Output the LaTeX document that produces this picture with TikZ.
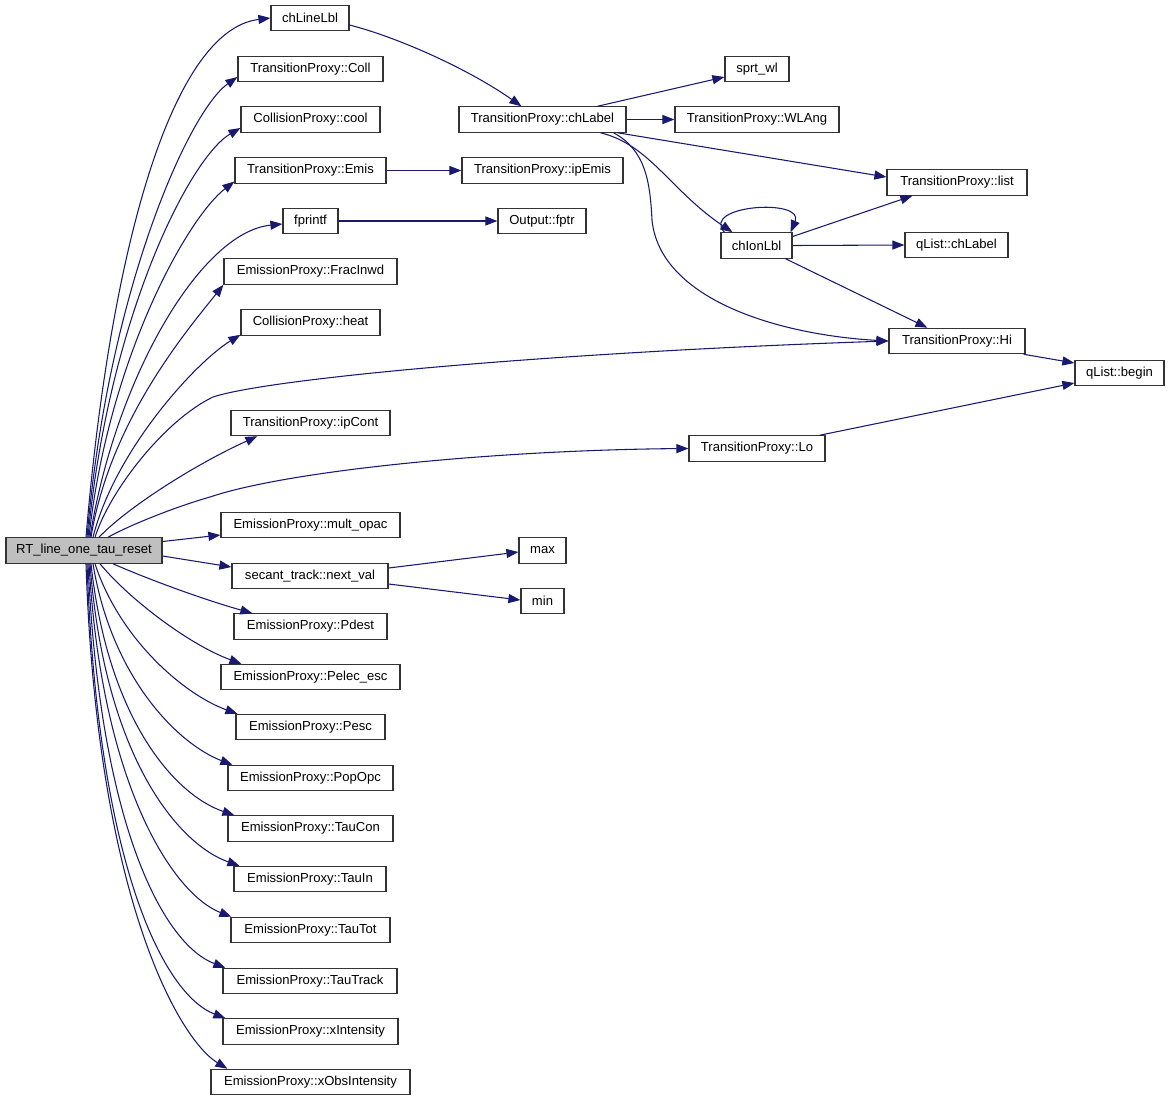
\documentclass[tikz,border=0pt]{standalone}
\usepackage{fontspec}
\setmainfont{Liberation Sans}
\usetikzlibrary{arrows.meta,calc}
\definecolor{edgecol}{HTML}{191970}
\definecolor{rootfill}{HTML}{BFBFBF}
\definecolor{boxline}{HTML}{333333}
\begin{document}
\begin{tikzpicture}[x=0.75pt,y=-0.75pt,
  box/.style={draw=boxline, line width=0.9pt, fill=white, minimum height=19pt, inner sep=0pt, font=\fontsize{9.8pt}{11pt}\selectfont},
  rootbox/.style={box, fill=rootfill},
  edge/.style={draw=edgecol, line width=0.8pt, -{Triangle[length=9pt,width=6.8pt]}}]
\useasboundingbox (0,0) rectangle (1171,1101);
% nodes
\node[rootbox, minimum width=117pt] (root) at (84,550.5) {RT\_line\_one\_tau\_reset};
\node[box, minimum width=58.5pt] (chlinelbl) at (310,18) {chLineLbl};
\node[box, minimum width=108.75pt] (coll) at (310.5,69) {TransitionProxy::Coll};
\node[box, minimum width=104.25pt] (cool) at (310.5,119.5) {CollisionProxy::cool};
\node[box, minimum width=113.25pt] (emis) at (310.5,170.5) {TransitionProxy::Emis};
\node[box, minimum width=41.25pt] (fprintf) at (310.5,221) {fprintf};
\node[box, minimum width=129.75pt] (fracinwd) at (310.5,271.5) {EmissionProxy::FracInwd};
\node[box, minimum width=104.25pt] (heat) at (310.5,322.5) {CollisionProxy::heat};
\node[box, minimum width=119.25pt] (ipcont) at (310.5,423) {TransitionProxy::ipCont};
\node[box, minimum width=134.25pt] (multopac) at (310.5,525) {EmissionProxy::mult\_opac};
\node[box, minimum width=117pt] (nextval) at (310,576) {secant\_track::next\_val};
\node[box, minimum width=114.75pt] (pdest) at (310.5,626.5) {EmissionProxy::Pdest};
\node[box, minimum width=134.25pt] (pelec) at (310.5,677) {EmissionProxy::Pelec\_esc};
\node[box, minimum width=111.75pt] (pesc) at (310.5,727) {EmissionProxy::Pesc};
\node[box, minimum width=123.75pt] (popopc) at (310.5,778) {EmissionProxy::PopOpc};
\node[box, minimum width=123.75pt] (taucon) at (310.5,828.5) {EmissionProxy::TauCon};
\node[box, minimum width=114pt] (tauin) at (310,879) {EmissionProxy::TauIn};
\node[box, minimum width=119.25pt] (tautot) at (310.5,930) {EmissionProxy::TauTot};
\node[box, minimum width=130.5pt] (tautrack) at (310,981) {EmissionProxy::TauTrack};
\node[box, minimum width=131.25pt] (xint) at (310.5,1031.5) {EmissionProxy::xIntensity};
\node[box, minimum width=149.25pt] (xobs) at (310.5,1082) {EmissionProxy::xObsIntensity};
\node[box, minimum width=125.25pt] (chlabel) at (542.5,119.5) {TransitionProxy::chLabel};
\node[box, minimum width=120.75pt] (ipemis) at (542.5,170.5) {TransitionProxy::ipEmis};
\node[box, minimum width=66pt] (fptr) at (542,221) {Output::fptr};
\node[box, minimum width=102pt] (lo) at (757,448.5) {TransitionProxy::Lo};
\node[box, minimum width=35.25pt] (max) at (542.5,550.5) {max};
\node[box, minimum width=32.25pt] (min) at (542.5,601) {min};
\node[box, minimum width=48pt] (sprtwl) at (757,69) {sprt\_wl};
\node[box, minimum width=123pt] (wlang) at (757,119.5) {TransitionProxy::WLAng};
\node[box, minimum width=53.25pt] (chionlbl) at (756.5,245.5) {chIonLbl};
\node[box, minimum width=105pt] (list) at (957,182.5) {TransitionProxy::list};
\node[box, minimum width=77.25pt] (qchlabel) at (956.5,245) {qList::chLabel};
\node[box, minimum width=102pt] (hi) at (957,341) {TransitionProxy::Hi};
\node[box, minimum width=66.75pt] (begin) at (1119.5,373) {qList::begin};
% edges from root, upward
\draw[edge] ($(root.north)+(2,0)$) .. controls (110,252) and (171,30) .. (chlinelbl.west);
\draw[edge] ($(root.north)+(3,0)$) .. controls (108,290) and (189,111) .. ($(coll.west)+(0,8)$);
\draw[edge] ($(root.north)+(4,0)$) .. controls (108,320) and (189,158) .. ($(cool.west)+(0,8.5)$);
\draw[edge] ($(root.north)+(5,0)$) .. controls (108,360) and (187,218) .. ($(emis.west)+(0,11)$);
\draw[edge] ($(root.north)+(6,0)$) .. controls (115,380) and (200,232) .. ($(fprintf.west)+(0,3)$);
\draw[edge] ($(root.north)+(7,0)$) .. controls (110,420) and (189,328) .. (fracinwd.south west);
\draw[edge] ($(root.north)+(9,0)$) .. controls (115,450) and (196,362) .. ($(heat.south west)+(0,-1)$);
\draw[edge] ($(root.north)+(11,0)$) .. controls (110,490) and (165,420) .. (213,397)
   .. controls (270,378) and (560,352) .. (hi.west);
\draw[edge] ($(root.north)+(15,0)$) .. controls (130,505) and (200,462) .. ($(ipcont.south west)+(27,0)$);
\draw[edge] ($(root.north)+(24,0)$) .. controls (130,525) and (175,507) .. (210,497)
   .. controls (290,470) and (500,450) .. (lo.west);
% straight from root east
\draw[edge] ($(root.east)+(0,-9)$) -- ($(multopac.west)+(0,10)$);
\draw[edge] ($(root.east)+(0,5.5)$) -- ($(nextval.west)+(0,-9)$);
% edges from root, downward
\draw[edge] ($(root.south)+(29,0)$) .. controls (150,580) and (205,600) .. ($(pdest.north west)+(19,0)$);
\draw[edge] ($(root.south)+(16,0)$) .. controls (130,600) and (190,645) .. ($(pelec.north west)+(21,0)$);
\draw[edge] ($(root.south)+(11,0)$) .. controls (120,640) and (185,695) .. ($(pesc.north west)+(2,0)$);
\draw[edge] ($(root.south)+(9,0)$) .. controls (112,680) and (180,745) .. ($(popopc.north west)+(5,0)$);
\draw[edge] ($(root.south)+(7,0)$) .. controls (108,720) and (175,795) .. ($(taucon.north west)+(7,0)$);
\draw[edge] ($(root.south)+(6,0)$) .. controls (105,760) and (180,845) .. ($(tauin.north west)+(6,0)$);
\draw[edge] ($(root.south)+(5,0)$) .. controls (102,790) and (175,895) .. ($(tautot.north west)+(1,0)$);
\draw[edge] ($(root.south)+(4,0)$) .. controls (100,830) and (165,945) .. ($(tautrack.north west)+(3,0)$);
\draw[edge] ($(root.south)+(3,0)$) .. controls (98,870) and (165,995) .. ($(xint.north west)+(3,0)$);
\draw[edge] ($(root.south)+(2,0)$) .. controls (97,900) and (180,1040) .. ($(xobs.north west)+(17,0)$);
% second level
\draw[edge] ($(chlinelbl.east)+(0,7)$) .. controls (400,38) and (470,70) .. ($(chlabel.north west)+(63,0)$);
\draw[edge] (emis.east) -- (ipemis.west);
\draw[edge] (fprintf.east) -- (fptr.west);
\draw[edge] ($(nextval.east)+(0,-8)$) -- ($(max.west)+(0,1.5)$);
\draw[edge] ($(nextval.east)+(0,8)$) -- ($(min.west)+(0,-1)$);
% chLabel
\draw[edge] ($(chlabel.north east)+(-29,0)$) -- ($(sprtwl.west)+(0,8)$);
\draw[edge] (chlabel.east) -- (wlang.west);
\draw[edge] ($(chlabel.south east)+(-9,0)$) -- ($(list.west)+(0,-5.5)$);
\draw[edge] ($(chlabel.south east)+(-26,0)$) .. controls (650,145) and (670,190) .. ($(chionlbl.north west)+(12,0)$);
\draw[edge] ($(chlabel.south east)+(-13,0)$) .. controls (645,150) and (650,180) .. (652,220)
   .. controls (660,300) and (780,335) .. (hi.west);
% chIonLbl
\draw[edge] ($(chionlbl.north west)+(4,0)$) .. controls (700,205) and (805,198) .. ($(chionlbl.north east)+(-2,0)$);
\draw[edge] ($(chionlbl.east)+(0,-9)$) -- ($(list.south west)+(26,0)$);
\draw[edge] (chionlbl.east) -- (qchlabel.west);
\draw[edge] ($(chionlbl.south east)+(-7,0)$) -- ($(hi.north west)+(39,0)$);
% to begin
\draw[edge] ($(hi.south east)+(-2,0)$) -- ($(begin.west)+(0,-10)$);
\draw[edge] ($(lo.north east)+(-6,0)$) -- ($(begin.west)+(0,10)$);
\end{tikzpicture}
\end{document}
